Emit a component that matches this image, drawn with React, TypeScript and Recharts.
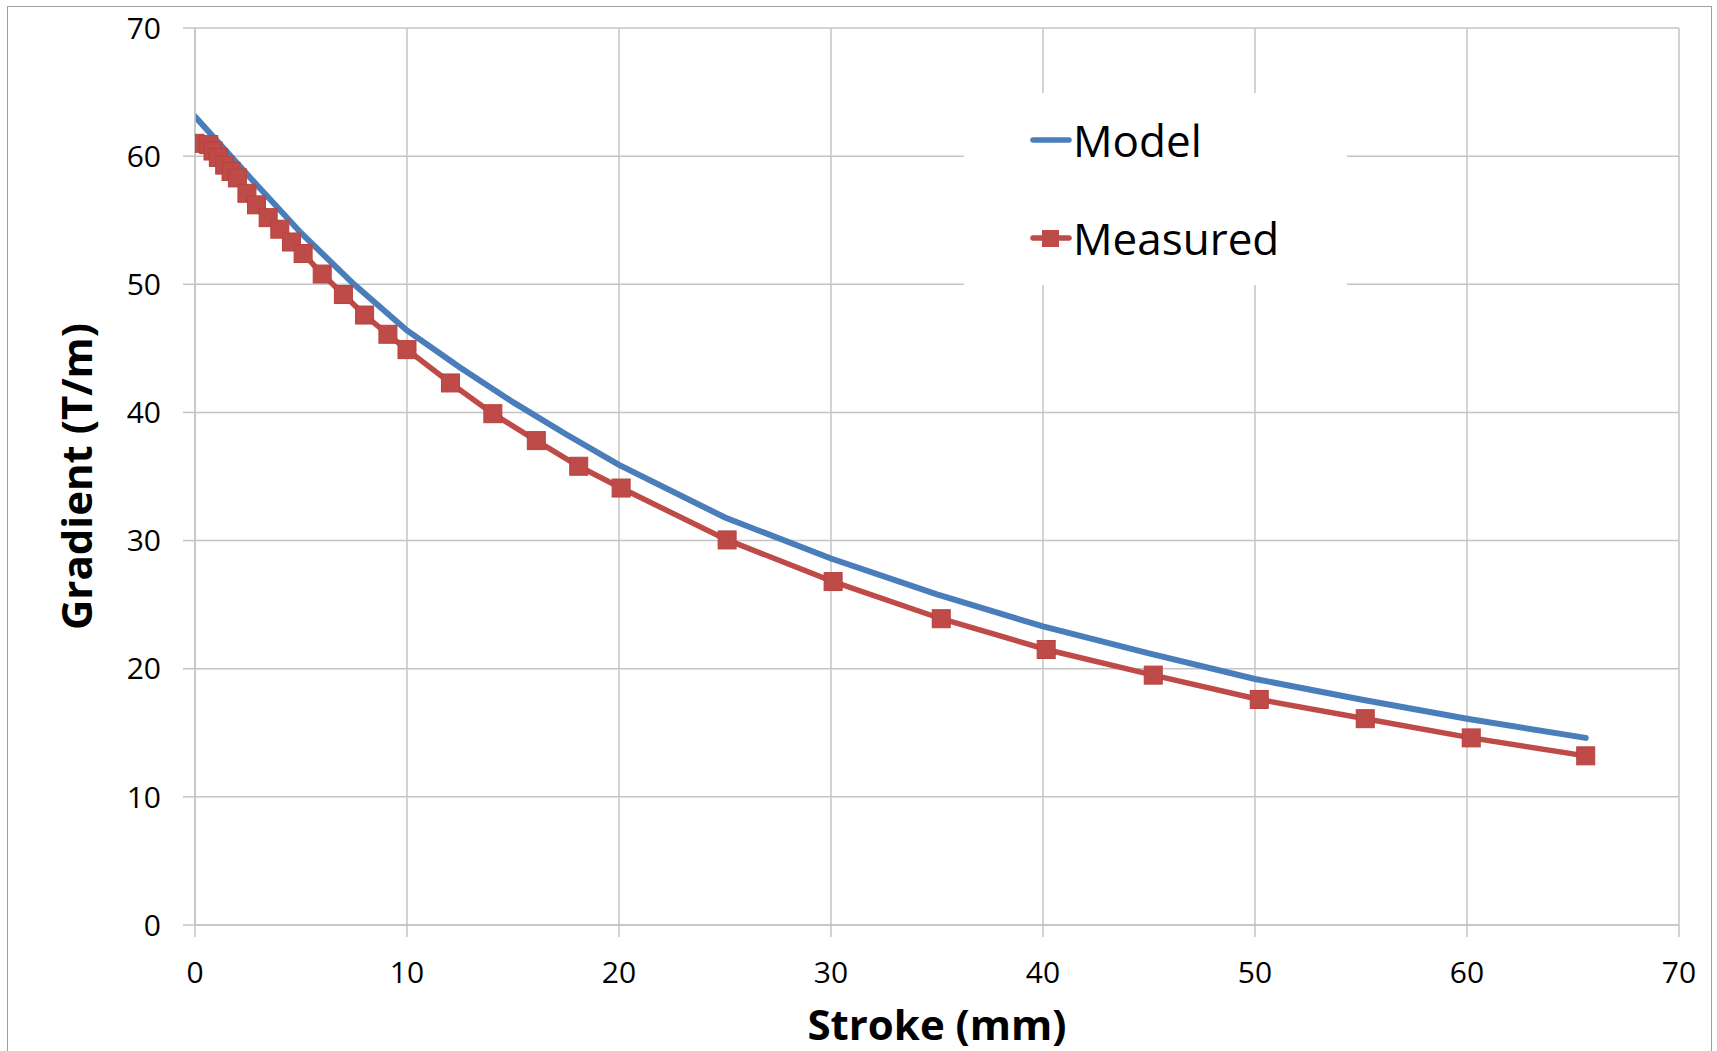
import React from 'react';
import { LineChart, Line, XAxis, YAxis, CartesianGrid, Legend } from 'recharts';

const xTicks = [0, 10, 20, 30, 40, 50, 60, 70];
const yTicks = [0, 10, 20, 30, 40, 50, 60, 70];

const modelStroke = [0, 2.5, 5, 7.5, 10, 12.5, 15, 17.5, 20, 25, 30, 35, 40, 45, 50, 55, 60, 65.6];
const modelGradient = [63.1, 58.5, 54.0, 50.0, 46.4, 43.5, 40.8, 38.3, 35.9, 31.8, 28.6, 25.8, 23.3, 21.2, 19.2, 17.6, 16.1, 14.6];

const measuredStroke = [0, 0.65, 0.85, 1.1, 1.4, 1.7, 2.0, 2.45, 2.9, 3.45, 4.0, 4.55, 5.1, 6.0, 7.0, 8.0, 9.1, 10.0, 12.05, 14.05, 16.1, 18.1, 20.1, 25.1, 30.1, 35.2, 40.15, 45.2, 50.2, 55.2, 60.2, 65.6];
const measuredGradient = [61.0, 60.9, 60.4, 59.9, 59.3, 58.8, 58.3, 57.1, 56.2, 55.2, 54.3, 53.3, 52.4, 50.8, 49.2, 47.6, 46.1, 44.9, 42.3, 39.9, 37.8, 35.8, 34.1, 30.05, 26.8, 23.9, 21.5, 19.5, 17.6, 16.1, 14.6, 13.2];

const seriesOrder = ['Model', 'Measured'];

const modelData = modelStroke.map((x, i) => ({ x, y: modelGradient[i] }));
const measuredData = measuredStroke.map((x, i) => ({ x, y: measuredGradient[i] }));

const BLUE = '#4A7EBB';
const RED = '#BE4B48';
const GRID = '#c4c4c4';
const FONT = '"Open Sans", "DejaVu Sans", sans-serif';

const SquareDot = (props: any) => {
  const { cx, cy, index } = props;
  if (cx == null || cy == null) return <g key={`d-${index}`} />;
  return <rect key={`d-${index}`} x={cx - 9} y={cy - 9} width={18} height={18} fill={RED} stroke="#b8423f" strokeWidth={1} />;
};

const LegendBox = (props: any) => {
  const payload = [...(props.payload || [])].sort(
    (a: any, b: any) => seriesOrder.indexOf(a.value) - seriesOrder.indexOf(b.value)
  );
  return (
    <div style={{ width: 383, height: 192, background: '#ffffff', position: 'relative', fontFamily: FONT }}>
      {payload.map((entry: any, i: number) => {
        const isMeasured = entry.value === 'Measured';
        const top = i === 0 ? 47 : 145;
        return (
          <div key={entry.value} style={{ position: 'absolute', left: 0, top: top - 30, height: 60, width: 383 }}>
            <svg width={110} height={60} style={{ position: 'absolute', left: 0, top: 0 }}>
              <line x1={69} y1={30} x2={105} y2={30} stroke={entry.color} strokeWidth={5.5} strokeLinecap="round" />
              {isMeasured ? <rect x={78} y={22} width={17} height={17} fill={RED} /> : null}
            </svg>
            <span style={{ position: 'absolute', left: 109, top: 0, lineHeight: '60px', fontSize: 44, color: '#000' }}>{entry.value}</span>
          </div>
        );
      })}
    </div>
  );
};

const YTitle = (props: any) => {
  const vb = props.viewBox || {};
  const x = vb.x + vb.width - 120;
  const y = vb.y + vb.height / 2;
  return (
    <text x={x} y={y} transform={`rotate(-90, ${x}, ${y})`} textAnchor="middle" dominantBaseline="central" fontFamily={FONT} fontWeight={700} fontSize={42} fill="#000">
      Gradient (T/m)
    </text>
  );
};

const XTitle = (props: any) => {
  const vb = props.viewBox || {};
  const x = vb.x + vb.width / 2;
  const y = vb.y + 98;
  return (
    <text x={x} y={y} textAnchor="middle" dominantBaseline="central" fontFamily={FONT} fontWeight={700} fontSize={42} fill="#000">
      Stroke (mm)
    </text>
  );
};

export default function App() {
  return (
    <div style={{ position: 'absolute', left: 0, top: 0, width: 1717, height: 1051, overflow: 'hidden', background: '#fff' }}>
      <div style={{ position: 'absolute', left: 7, top: 6, width: 1705, height: 1100, border: '1.5px solid #a0a0a0', boxSizing: 'border-box' }} />
      <div style={{ position: 'absolute', left: 0, top: 0 }}>
        <LineChart width={1717} height={1051} margin={{ top: 28, right: 38, bottom: 66, left: 125 }}>
          <CartesianGrid stroke={GRID} strokeWidth={1.5} horizontalValues={yTicks} verticalValues={xTicks} />
          <XAxis
            type="number"
            dataKey="x"
            domain={[0, 70]}
            ticks={xTicks}
            height={60}
            tickSize={12}
            tickMargin={25}
            axisLine={{ stroke: GRID, strokeWidth: 1.5 }}
            tickLine={{ stroke: GRID, strokeWidth: 1.5 }}
            tick={{ fontFamily: FONT, fontSize: 30, fill: '#000' }}
            allowDataOverflow
            label={<XTitle />}
          />
          <YAxis
            type="number"
            dataKey="y"
            domain={[0, 70]}
            ticks={yTicks}
            width={70}
            tickSize={12}
            tickMargin={22}
            axisLine={{ stroke: GRID, strokeWidth: 1.5 }}
            tickLine={{ stroke: GRID, strokeWidth: 1.5 }}
            tick={{ fontFamily: FONT, fontSize: 30, fill: '#000' }}
            allowDataOverflow
            label={<YTitle />}
          />
          <Legend
            layout="vertical"
            align="center"
            verticalAlign="middle"
            content={<LegendBox />}
            wrapperStyle={{ position: 'absolute', left: 964, top: 93, width: 383, height: 192 }}
          />
          <Line
            name="Model"
            data={modelData}
            dataKey="y"
            stroke={BLUE}
            strokeWidth={6}
            strokeLinecap="round"
            dot={false}
            activeDot={false}
            type="linear"
            isAnimationActive={false}
          />
          <Line
            name="Measured"
            data={measuredData}
            dataKey="y"
            stroke={RED}
            strokeWidth={5.5}
            dot={<SquareDot />}
            activeDot={false}
            type="linear"
            isAnimationActive={false}
          />
        </LineChart>
      </div>
    </div>
  );
}
